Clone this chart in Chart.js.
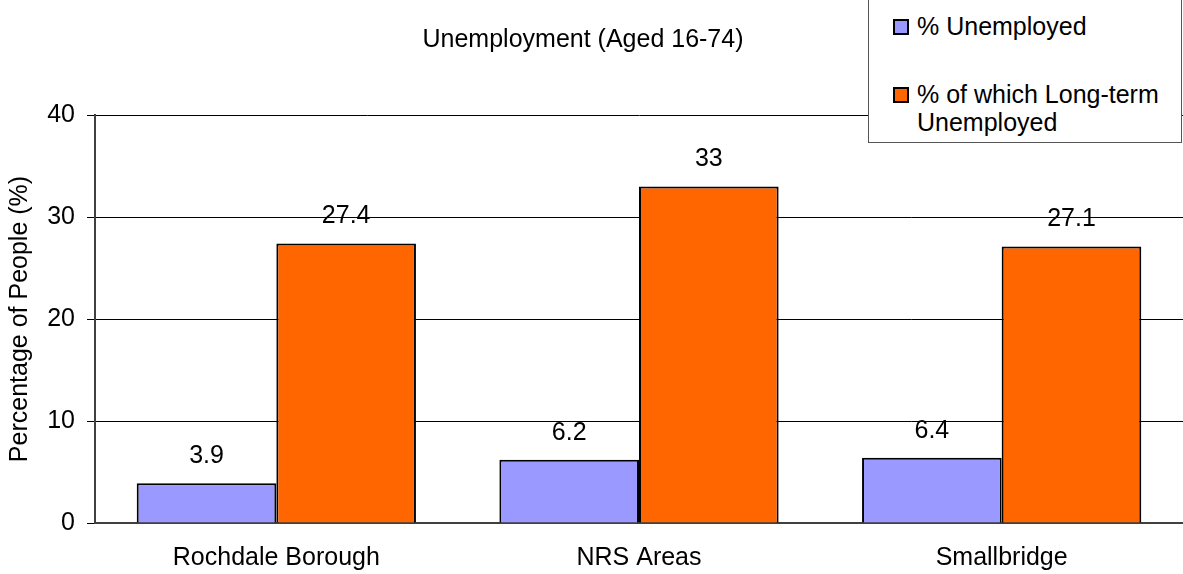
<!DOCTYPE html>
<html>
<head>
<meta charset="utf-8">
<script src="https://cdn.jsdelivr.net/npm/chart.js@4/dist/chart.umd.min.js"></script>
<style>
  html, body { margin: 0; padding: 0; background: #fff; }
  #wrap { position: relative; width: 1183px; height: 574px; }
  #legend {
    position: absolute; left: 868px; top: -2px; width: 314px; height: 145px;
    border: 1px solid #555; background: #fff; box-sizing: border-box;
    font-family: "Liberation Sans", Arial, sans-serif; font-size: 25px; color: #000;
  }
  .item { position: absolute; left: 24px; display: flex; align-items: flex-start; line-height: 28px; }
  .sw { width: 12px; height: 12px; border: 2px solid #000; margin-top: 7px; margin-right: 8px; flex: none; }
</style>
</head>
<body>
<div id="wrap">
  <canvas id="unemploymentChart" width="1183" height="574"></canvas>
  <div id="legend"></div>
</div>
<script>
const areas = ["Rochdale Borough", "NRS Areas", "Smallbridge"];
const unemployed = [3.9, 6.2, 6.4];
const longTerm = [27.4, 33, 27.1];
const seriesNames = ["% Unemployed", "% of which Long-term Unemployed"];
const yTicks = [0, 10, 20, 30, 40];

const ctx = document.getElementById("unemploymentChart");
const font = "Liberation Sans, Arial, sans-serif";

// value labels above each bar
const barLabels = {
  id: "barLabels",
  afterDatasetsDraw(chart) {
    const c = chart.ctx;
    c.save();
    c.font = "25px " + font;
    c.fillStyle = "#000";
    c.textAlign = "center";
    c.textBaseline = "middle";
    chart.data.datasets.forEach((ds, i) => {
      chart.getDatasetMeta(i).data.forEach((bar, j) => {
        c.fillText(String(ds.data[j]), bar.x, bar.y - 27);
      });
    });
    c.restore();
  }
};

const titleText = {
  id: "titleText",
  afterDraw(chart) {
    const c = chart.ctx;
    c.save();
    c.font = "25px " + font;
    c.fillStyle = "#000";
    c.textAlign = "center";
    c.textBaseline = "middle";
    c.fillText("Unemployment (Aged 16-74)", 583, 40);
    c.restore();
  }
};

const myChart = new Chart(ctx, {
  type: "bar",
  data: {
    labels: areas,
    datasets: [
      {
        label: seriesNames[0],
        data: unemployed,
        backgroundColor: "#9999FF",
        borderColor: "#000",
        borderWidth: 2,
        barPercentage: 1,
        categoryPercentage: 0.77
      },
      {
        label: seriesNames[1],
        data: longTerm,
        backgroundColor: "#FF6600",
        borderColor: "#000",
        borderWidth: 2,
        barPercentage: 1,
        categoryPercentage: 0.77
      }
    ]
  },
  options: {
    responsive: false,
    animation: false,
    layout: { padding: { top: 115, right: 0, left: 0, bottom: 1 } },
    plugins: {
      legend: { display: false },
      tooltip: { enabled: false }
    },
    scales: {
      x: {
        grid: { display: false, drawTicks: false },
        border: { color: "#404040", width: 2 },
        ticks: { color: "#000", font: { size: 25, family: font }, padding: 20 },
        afterFit(axis) { axis.height = 50; }
      },
      y: {
        min: 0,
        max: 40,
        afterBuildTicks(axis) { axis.ticks = yTicks.map(v => ({ value: v })); },
        grid: { color: "#000", lineWidth: 1, tickLength: 8, tickColor: "#000" },
        border: { color: "#404040", width: 2 },
        ticks: { color: "#000", font: { size: 25, family: font }, padding: 12 },
        title: {
          display: true,
          text: "Percentage of People (%)",
          color: "#000",
          font: { size: 25, family: font },
          padding: { top: 5, bottom: 12 }
        },
        afterFit(axis) { axis.width = 95; }
      }
    }
  },
  plugins: [barLabels, titleText]
});

// legend box built from the datasets
const legend = document.getElementById("legend");
myChart.data.datasets.forEach((ds, i) => {
  const item = document.createElement("div");
  item.className = "item";
  item.style.top = i === 0 ? "13px" : "81px";
  item.innerHTML = '<span class="sw" style="background:' + ds.backgroundColor + '"></span><span>' +
    (i === 1 ? "% of which Long-term<br>Unemployed" : ds.label) + "</span>";
  legend.appendChild(item);
});
</script>
</body>
</html>
